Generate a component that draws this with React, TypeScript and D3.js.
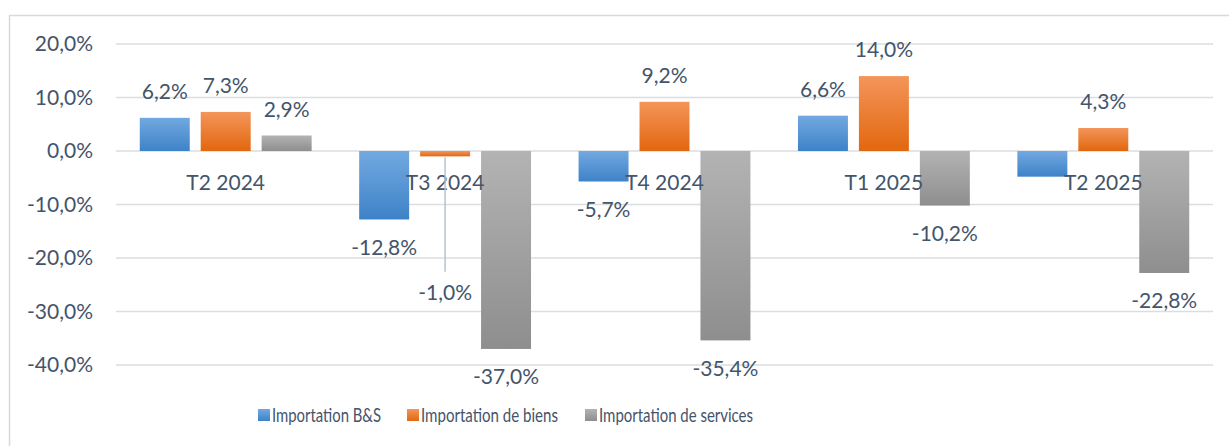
import React, { useRef, useEffect } from 'react';
import * as d3 from 'd3';

// categories and series (values in %)
const categories = ['T2 2024', 'T3 2024', 'T4 2024', 'T1 2025', 'T2 2025'];
const seriesNames = ['Importation B&S', 'Importation de biens', 'Importation de services'];
const importBS = [6.2, -12.8, -5.7, 6.6, -4.8];
const importBiens = [7.3, -1.0, 9.2, 14.0, 4.3];
const importServices = [2.9, -37.0, -35.4, -10.2, -22.8];
// which data labels are shown (the B&S label of T2 2025 is not)
const showBS = [true, true, true, true, false];
const yTicks = [20, 10, 0, -10, -20, -30, -40];

const W = 1229, H = 446;
const FONT = 'Lato, "Open Sans", sans-serif';
const TXT = '#44546a';

function App() {
  const ref = useRef<SVGSVGElement>(null);

  useEffect(() => {
    const svg = d3.select(ref.current);
    svg.selectAll('*').remove();
    drawChart(svg);
  }, []);

  const drawChart = (svg: any) => {
    const margin = { top: 44, left: 116, right: 16, bottom: 81 };
    const x = d3.scaleBand().domain(categories).range([margin.left, W - margin.right]);
    const y = d3.scaleLinear().domain([-40, 20]).range([H - margin.bottom, margin.top]);
    const inner = d3.scaleBand().domain(['0', '1', '2']).range([0, x.bandwidth()]).paddingInner(0.18).paddingOuter(0.39);

    const fmt = (v: number) => v.toFixed(1).replace('.', ',') + '%';

    // gradients
    const defs = svg.append('defs');
    const grads = [
      ['#72a9e0', '#3e82c8'],
      ['#f4955a', '#e2670f'],
      ['#b3b3b3', '#8e8e8e'],
    ];
    grads.forEach((g, i) => {
      const lg = defs.append('linearGradient').attr('id', 'g' + i)
        .attr('x1', 0).attr('y1', 0).attr('x2', 0).attr('y2', 1);
      lg.append('stop').attr('offset', '0%').attr('stop-color', g[0]);
      lg.append('stop').attr('offset', '100%').attr('stop-color', g[1]);
    });

    // chart border
    svg.append('rect')
      .attr('x', 9.5).attr('y', 15.5).attr('width', W + 20).attr('height', H + 20)
      .attr('fill', 'white').attr('stroke', '#d9d9d9').attr('stroke-width', 1.5);

    // gridlines + tick labels
    svg.selectAll('.grid').data(yTicks).enter().append('line')
      .attr('x1', margin.left).attr('x2', W - margin.right)
      .attr('y1', (d: number) => y(d)).attr('y2', (d: number) => y(d))
      .attr('stroke', '#dadde2').attr('stroke-width', 1.5);

    svg.selectAll('.tick').data(yTicks).enter().append('text')
      .attr('x', 93).attr('y', (d: number) => y(d)).attr('dy', '0.35em')
      .attr('text-anchor', 'end').attr('font-family', FONT).attr('font-size', 21)
      .attr('fill', TXT).text((d: number) => fmt(d));

    const series = [importBS, importBiens, importServices];
    const rows: any[] = [];
    series.forEach((vals, s) => vals.forEach((v, c) => rows.push({ s, c, v })));

    // bars
    svg.selectAll('.bar').data(rows).enter().append('rect')
      .attr('x', (d: any) => x(categories[d.c])! + inner(String(d.s))!)
      .attr('width', inner.bandwidth())
      .attr('y', (d: any) => y(Math.max(0, d.v)))
      .attr('height', (d: any) => Math.abs(y(d.v) - y(0)))
      .attr('fill', (d: any) => 'url(#g' + d.s + ')');

    // category labels
    svg.selectAll('.cat').data(categories).enter().append('text')
      .attr('x', (d: string) => x(d)! + x.bandwidth() / 2).attr('y', y(0) + 32)
      .attr('dy', '0.35em').attr('text-anchor', 'middle')
      .attr('font-family', FONT).attr('font-size', 21).attr('fill', TXT)
      .text((d: string) => d);

    // data labels
    const labelRows = rows.filter((d: any) => !(d.s === 0 && !showBS[d.c]));
    labelRows.forEach((d: any) => {
      const cx = x(categories[d.c])! + inner(String(d.s))! + inner.bandwidth() / 2;
      let ly = d.v >= 0 ? y(d.v) - 26 : y(d.v) + 28;
      if (d.s === 1 && d.c === 1) {
        // label pulled down with a leader line
        ly = y(-26.5);
        svg.append('line').attr('x1', cx).attr('x2', cx)
          .attr('y1', y(d.v) + 1).attr('y2', ly - 21)
          .attr('stroke', '#b8c2cf').attr('stroke-width', 1.5);
      }
      svg.append('text').attr('x', cx).attr('y', ly).attr('dy', '0.35em')
        .attr('text-anchor', 'middle').attr('font-family', FONT).attr('font-size', 21)
        .attr('fill', TXT).text(fmt(d.v));
    });

    // legend
    const legX = [258, 407, 585];
    const legLen = [109, 137, 154];
    seriesNames.forEach((n, i) => {
      svg.append('rect').attr('x', legX[i]).attr('y', 409).attr('width', 12).attr('height', 12)
        .attr('fill', 'url(#g' + i + ')');
      svg.append('text').attr('x', legX[i] + 14).attr('y', 415).attr('dy', '0.35em')
        .attr('font-family', FONT).attr('font-size', 19).attr('fill', TXT)
        .attr('textLength', legLen[i]).attr('lengthAdjust', 'spacingAndGlyphs').text(n);
    });
  };

  return (
    <svg ref={ref} width={W} height={H}
      style={{ position: 'absolute', left: 0, top: 0, background: 'white' }}>
    </svg>
  );
}

export default App;
